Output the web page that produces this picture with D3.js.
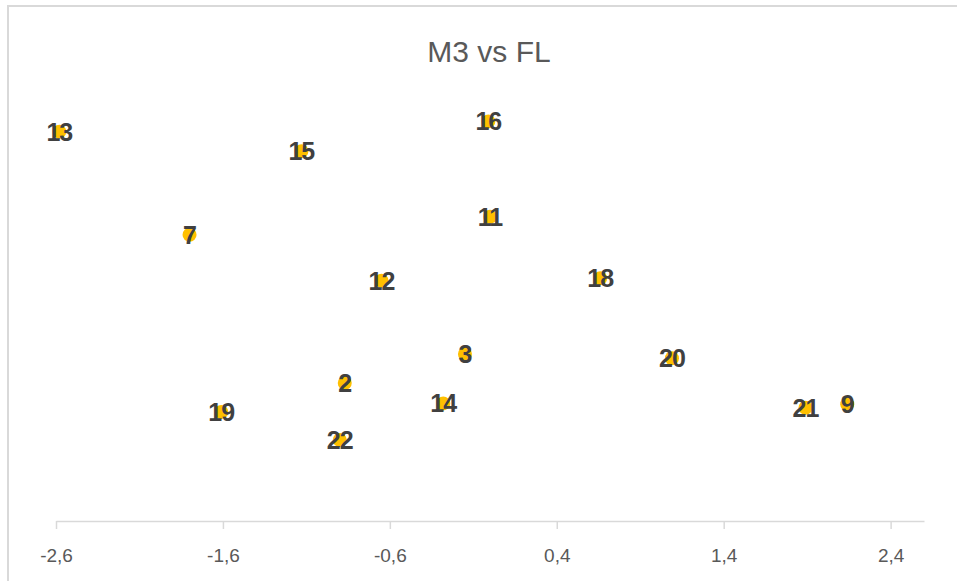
<!DOCTYPE html>
<html>
<head>
<meta charset="utf-8">
<script src="https://cdn.jsdelivr.net/npm/d3@7"></script>
<style>
  html, body { margin: 0; padding: 0; background: #fff; }
  svg { display: block; }
</style>
</head>
<body>
<svg id="chart" width="957" height="581"></svg>
<script>
// ---- data ----
const labels  = ["13", "15", "7", "16", "11", "18", "12", "3", "2", "14", "22", "20", "21", "9", "19"];
const fValues = [-2.58, -1.13, -1.80, -0.01, 0.00, 0.66, -0.65, -0.15, -0.87, -0.28, -0.90, 1.09, 1.89, 2.14, -1.61];
const mValues = [2.07, 1.84, 0.86, 2.19, 1.07, 0.35, 0.32, -0.54, -0.88, -1.12, -1.55, -0.59, -1.17, -1.13, -1.22];
const xTicks  = [-2.6, -1.6, -0.6, 0.4, 1.4, 2.4];
const xDomain = [-2.6, 2.6];
const yDomain = [-2.5, 2.5];
const title   = "M3 vs FL";

const svg = d3.select("#chart");

// chart border
svg.append("rect")
  .attr("x", 8).attr("y", 6).attr("width", 1000).attr("height", 1000)
  .attr("fill", "#fff").attr("stroke", "#d9d9d9").attr("stroke-width", 2);

const x = d3.scaleLinear().domain(xDomain).range([56, 924]);
const y = d3.scaleLinear().domain(yDomain).range([521, 95]);

// title
svg.append("text")
  .attr("x", 489).attr("y", 62)
  .attr("text-anchor", "middle")
  .attr("font-family", "'Liberation Sans', Arial, sans-serif")
  .attr("font-size", 30)
  .attr("fill", "#595959")
  .text(title);

// x axis
const axis = d3.axisBottom(x)
  .tickValues(xTicks)
  .tickSize(8)
  .tickSizeOuter(0)
  .tickFormat(d => d3.format(".1f")(d).replace(".", ",").replace("−", "-"));

const gx = svg.append("g").attr("transform", "translate(0,521)").call(axis);
gx.select(".domain").attr("stroke", "#d9d9d9").attr("stroke-width", 1.5);
gx.selectAll(".tick line").attr("stroke", "#d9d9d9").attr("stroke-width", 1.5);
gx.selectAll(".tick text")
  .attr("font-family", "'Liberation Sans', Arial, sans-serif")
  .attr("font-size", 19)
  .attr("fill", "#595959")
  .attr("dy", null)
  .attr("y", 41);

const pts = labels.map((l, i) => ({ label: l, fx: fValues[i], my: mValues[i] }));

// markers
svg.append("g").selectAll("circle").data(pts).join("circle")
  .attr("cx", d => x(d.fx))
  .attr("cy", d => y(d.my))
  .attr("r", 7)
  .attr("fill", "#ffc000");

// data labels
svg.append("g").selectAll("text").data(pts).join("text")
  .attr("x", d => x(d.fx))
  .attr("y", d => y(d.my))
  .attr("dy", "0.36em")
  .attr("text-anchor", "middle")
  .attr("font-family", "'Liberation Sans', Arial, sans-serif")
  .attr("font-weight", "bold")
  .attr("font-size", 25)
  .attr("letter-spacing", -1)
  .attr("fill", "#404040")
  .text(d => d.label);
</script>
</body>
</html>
